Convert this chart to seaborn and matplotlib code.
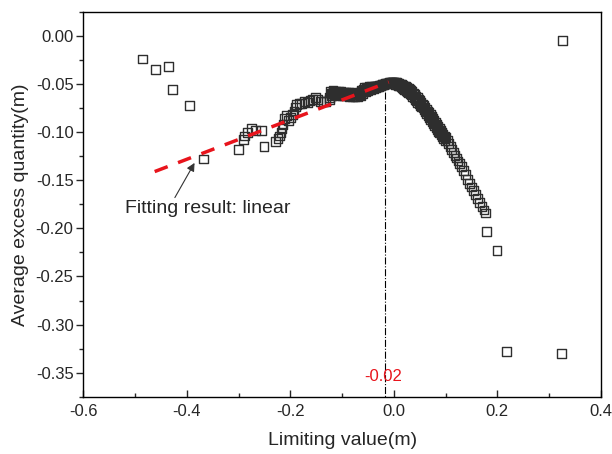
import numpy as np
import pandas as pd
import seaborn as sns
import matplotlib.pyplot as plt
from matplotlib.ticker import MultipleLocator

sns.set_theme(style="ticks")
plt.rcParams['font.family'] = ['Liberation Sans', 'DejaVu Sans']

# scattered points, left side
x_left = [-0.485, -0.460, -0.435, -0.427, -0.394, -0.367]
y_left = [-0.024, -0.035, -0.032, -0.056, -0.072, -0.128]

# rising part -0.30 .. -0.13
x_rise = [-0.300, -0.291, -0.289, -0.282, -0.275, -0.267, -0.256, -0.251, -0.228, -0.224,
          -0.221, -0.218, -0.216, -0.214, -0.212, -0.208, -0.204, -0.200, -0.196, -0.193,
          -0.190, -0.188, -0.183, -0.178, -0.173, -0.167, -0.162, -0.157, -0.152, -0.147,
          -0.141, -0.136, -0.131]
y_rise = [-0.118, -0.108, -0.104, -0.100, -0.096, -0.098, -0.098, -0.115, -0.110, -0.107,
          -0.104, -0.100, -0.096, -0.092, -0.086, -0.083, -0.088, -0.085, -0.082, -0.078,
          -0.074, -0.071, -0.070, -0.070, -0.068, -0.069, -0.067, -0.066, -0.064, -0.066,
          -0.068, -0.068, -0.068]

# dense band up to the peak
x_band = [-0.1250, -0.1225, -0.1200, -0.1175, -0.1150, -0.1125, -0.1100, -0.1075, -0.1050, -0.1025,
          -0.1000, -0.0975, -0.0950, -0.0925, -0.0900, -0.0875, -0.0850, -0.0825, -0.0800, -0.0775,
          -0.0750, -0.0725, -0.0700, -0.0675, -0.0650, -0.0625, -0.0600, -0.0575, -0.0550, -0.0525,
          -0.0500, -0.0475, -0.0450, -0.0425, -0.0400, -0.0375, -0.0350, -0.0325, -0.0300, -0.0275,
          -0.0250, -0.0225, -0.0200, -0.0175, -0.0150, -0.0125, -0.0100, -0.0075, -0.0050, -0.0025,
          0.0000]
y_band = [-0.064, -0.058, -0.062, -0.057, -0.061, -0.058, -0.062, -0.058, -0.061, -0.058,
          -0.062, -0.059, -0.062, -0.059, -0.062, -0.059, -0.063, -0.059, -0.063, -0.060,
          -0.063, -0.060, -0.063, -0.060, -0.062, -0.057, -0.060, -0.054, -0.058, -0.054,
          -0.057, -0.053, -0.056, -0.053, -0.055, -0.052, -0.054, -0.052, -0.053, -0.051,
          -0.052, -0.050, -0.051, -0.050, -0.050, -0.049, -0.049, -0.049, -0.0485, -0.0485,
          -0.0485]

# second row of the dense band
x_band2 = [-0.12375, -0.12125, -0.11875, -0.11625, -0.11375, -0.11125, -0.10875, -0.10625, -0.10375, -0.10125,
           -0.09875, -0.09625, -0.09375, -0.09125, -0.08875, -0.08625, -0.08375, -0.08125, -0.07875, -0.07625,
           -0.07375, -0.07125, -0.06875, -0.06625, -0.06375, -0.06125, -0.05875, -0.05625, -0.05375, -0.05125,
           -0.04875, -0.04625, -0.04375, -0.04125, -0.03875, -0.03625, -0.03375, -0.03125, -0.02875, -0.02625,
           -0.02375, -0.02125, -0.01875, -0.01625, -0.01375, -0.01125, -0.00875, -0.00625, -0.00375, -0.00125]
y_band2 = [-0.066, -0.060, -0.060, -0.059, -0.060, -0.060, -0.060, -0.060, -0.060, -0.060,
           -0.0605, -0.0605, -0.0605, -0.0605, -0.061, -0.061, -0.061, -0.061, -0.0615, -0.0615,
           -0.0615, -0.0615, -0.0615, -0.061, -0.059, -0.058, -0.056, -0.056, -0.056, -0.055,
           -0.055, -0.0545, -0.054, -0.054, -0.0535, -0.053, -0.053, -0.0525, -0.052, -0.0515,
           -0.051, -0.0505, -0.050, -0.0495, -0.049, -0.049, -0.0485, -0.0485, -0.0485, -0.0485]

# falling part after the peak
x_fall = [0.0025, 0.005, 0.0075, 0.010, 0.0125, 0.015, 0.0175, 0.020, 0.0225, 0.025,
          0.0275, 0.030, 0.0325, 0.035, 0.0375, 0.040, 0.0425, 0.045, 0.0475, 0.050,
          0.0525, 0.055, 0.0575, 0.060, 0.0625, 0.065, 0.0675, 0.070, 0.0725, 0.075,
          0.0775, 0.080, 0.0825, 0.085, 0.0875, 0.090, 0.0925, 0.095, 0.0975, 0.100,
          0.103, 0.106, 0.109, 0.112, 0.115, 0.118, 0.121, 0.124, 0.127, 0.130,
          0.134, 0.138, 0.142, 0.146, 0.150, 0.154, 0.158, 0.162, 0.166, 0.170,
          0.174, 0.177, 0.179, 0.199, 0.218, 0.323, 0.325]
y_fall = [-0.0485, -0.0485, -0.049, -0.049, -0.050, -0.050, -0.051, -0.052, -0.053, -0.054,
          -0.055, -0.056, -0.057, -0.058, -0.060, -0.061, -0.063, -0.064, -0.066, -0.067,
          -0.069, -0.071, -0.072, -0.074, -0.076, -0.078, -0.080, -0.082, -0.084, -0.086,
          -0.088, -0.090, -0.092, -0.094, -0.096, -0.098, -0.100, -0.102, -0.104, -0.106,
          -0.109, -0.112, -0.115, -0.118, -0.121, -0.124, -0.127, -0.130, -0.133, -0.136,
          -0.140, -0.144, -0.149, -0.153, -0.157, -0.161, -0.165, -0.169, -0.173, -0.177,
          -0.181, -0.184, -0.203, -0.223, -0.328, -0.330, -0.005]

# second row of the falling band
x_fall2 = [0.00375, 0.00625, 0.00875, 0.01125, 0.01375, 0.01625, 0.01875, 0.02125, 0.02375, 0.02625,
           0.02875, 0.03125, 0.03375, 0.03625, 0.03875, 0.04125, 0.04375, 0.04625, 0.04875, 0.05125,
           0.05375, 0.05625, 0.05875, 0.06125, 0.06375, 0.06625, 0.06875, 0.07125, 0.07375, 0.07625,
           0.07875, 0.08125, 0.08375, 0.08625, 0.08875, 0.09125, 0.09375, 0.09625, 0.09875]
y_fall2 = [-0.051, -0.051, -0.052, -0.052, -0.053, -0.054, -0.055, -0.056, -0.057, -0.058,
           -0.059, -0.060, -0.061, -0.063, -0.064, -0.066, -0.067, -0.069, -0.070, -0.072,
           -0.074, -0.075, -0.077, -0.079, -0.081, -0.083, -0.085, -0.087, -0.089, -0.091,
           -0.093, -0.095, -0.097, -0.099, -0.101, -0.103, -0.105, -0.107, -0.109]

# linear fit (end points)
fit_x = [-0.462, -0.010]
fit_y = [-0.141, -0.048]

limit_x = -0.017  # marked as -0.02

df = pd.DataFrame({
    "x": x_left + x_rise + x_band + x_band2 + x_fall + x_fall2,
    "y": y_left + y_rise + y_band + y_band2 + y_fall + y_fall2,
})

fig, ax = plt.subplots(figsize=(6.12, 4.54), dpi=100)
fig.subplots_adjust(left=0.136, right=0.982, top=0.974, bottom=0.126)

sns.scatterplot(data=df, x="x", y="y", ax=ax, marker="s", s=40,
                facecolor="none", edgecolor="#2e2e2e", linewidth=1.0, zorder=2)
sns.lineplot(x=fit_x, y=fit_y, ax=ax, color="#e8141c", linewidth=2.5,
             dashes=(4, 3.2), zorder=3)
ax.plot([limit_x, limit_x], [-0.058, -0.375], color="black", linewidth=0.8,
        linestyle="-.", zorder=1)
ax.text(limit_x - 0.004, -0.354, "-0.02", color="#e8141c", fontsize=12, ha="center", va="center")

# label and arrow
ax.text(-0.519, -0.1705, "Fitting result: linear", fontsize=14, ha="left", va="top")
ax.annotate("", xy=(-0.385, -0.132), xytext=(-0.423, -0.168),
            arrowprops=dict(arrowstyle="-|>", color="#333333", lw=0.8,
                            mutation_scale=12, shrinkA=0, shrinkB=0))

ax.set_xlim(-0.6, 0.4)
ax.set_ylim(-0.375, 0.025)
ax.xaxis.set_major_locator(MultipleLocator(0.2))
ax.xaxis.set_minor_locator(MultipleLocator(0.1))
ax.yaxis.set_major_locator(MultipleLocator(0.05))
ax.yaxis.set_minor_locator(MultipleLocator(0.025))
ax.xaxis.set_major_formatter(plt.FormatStrFormatter("%.1f"))
ax.yaxis.set_major_formatter(plt.FormatStrFormatter("%.2f"))
ax.tick_params(axis="x", which="major", direction="in", length=5, width=1, labelsize=12, pad=5.5)
ax.tick_params(axis="x", which="minor", direction="in", length=3, width=1)
ax.tick_params(axis="y", which="major", direction="out", length=5, width=1, labelsize=12, pad=2)
ax.tick_params(axis="y", which="minor", direction="out", length=3, width=1)
for sp in ax.spines.values():
    sp.set_visible(True)
    sp.set_color("black")
    sp.set_linewidth(1)

ax.set_xlabel("Limiting value(m)", fontsize=14, labelpad=9)
ax.set_ylabel("Average excess quantity(m)", fontsize=14, labelpad=5)

plt.savefig("out.png", dpi=100)
